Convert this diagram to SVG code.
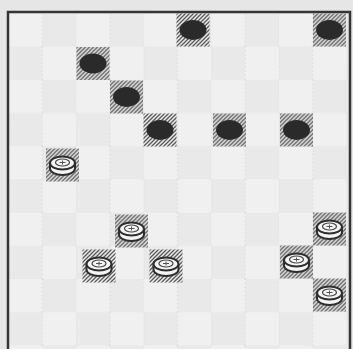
<svg xmlns="http://www.w3.org/2000/svg" width="353" height="349" viewBox="0 0 353 349">
  <defs>
    <pattern id="checker" patternUnits="userSpaceOnUse" x="8.5" y="13.4" width="67.6" height="66.4">
      <rect x="33.8" y="0" width="33.8" height="33.2" fill="#e9e9e9"/>
      <rect x="0" y="33.2" width="33.8" height="33.2" fill="#e9e9e9"/>
      <path d="M33.8,0 v33.2 M67.6,0 v33.2 M0,33.2 v33.2 M33.8,33.2 v33.2" stroke="#c8c8c8" stroke-width="0.8" stroke-dasharray="1 3" fill="none"/>
    </pattern>
    <pattern id="hatch" patternUnits="userSpaceOnUse" width="4" height="4">
      <path d="M-1,1 l2,-2 M0,4 l4,-4 M3,5 l2,-2" stroke="#5a5a5a" stroke-width="1.3"/>
    </pattern>
    <filter id="soft" x="-20%" y="-20%" width="140%" height="140%">
      <feGaussianBlur stdDeviation="0.7"/>
    </filter>
    <g id="blackPiece">
      <rect x="-16.5" y="-16.5" width="33" height="33" fill="url(#hatch)"/>
      <ellipse cx="0" cy="0" rx="13.5" ry="10" fill="#2c2c2c" filter="url(#soft)"/>
    </g>
    <g id="whitePiece">
      <rect x="-16.5" y="-16.5" width="33" height="33" fill="url(#hatch)"/>
      <g filter="url(#soft)">
        <path d="M-12.5,-2 v5.5 a12.5,6.5 0 0 0 25,0 v-5.5" fill="#f4f4f4" stroke="#2e2e2e" stroke-width="2"/>
        <ellipse cx="0" cy="-2" rx="12.5" ry="6.5" fill="#f4f4f4" stroke="#2e2e2e" stroke-width="2"/>
        <ellipse cx="0" cy="-2.5" rx="7" ry="3.5" fill="none" stroke="#444" stroke-width="1.2"/>
        <path d="M-3,-2.5 h6 M0,-4.5 v4" stroke="#555" stroke-width="1"/>
      </g>
    </g>
    <style>
      .border { stroke: #353535; stroke-width: 2.5; fill: none; }
    </style>
  </defs>

  <rect x="0" y="0" width="353" height="349" fill="#e6e6e6"/>
  <g id="board">
    <rect x="8.5" y="13.4" width="338" height="336" fill="#f0f0f0"/>
    <rect x="8.5" y="13.4" width="338" height="336" fill="url(#checker)"/>
    <path class="border" d="M8,349 V12 H350 V349"/>
  </g>

  <g id="connectors"></g>

  <g id="black-pieces">
    <use id="b1" href="#blackPiece" x="193" y="30"/>
    <use id="b2" href="#blackPiece" x="329.5" y="30"/>
    <use id="b3" href="#blackPiece" x="93" y="63.5"/>
    <use id="b4" href="#blackPiece" x="126.5" y="97"/>
    <use id="b5" href="#blackPiece" x="160" y="130"/>
    <use id="b6" href="#blackPiece" x="229.5" y="130"/>
    <use id="b7" href="#blackPiece" x="296.5" y="130"/>
  </g>

  <g id="white-pieces">
    <use id="w1" href="#whitePiece" x="62.5" y="165"/>
    <use id="w2" href="#whitePiece" x="131.5" y="231"/>
    <use id="w3" href="#whitePiece" x="329.5" y="229"/>
    <use id="w4" href="#whitePiece" x="99" y="266"/>
    <use id="w5" href="#whitePiece" x="166" y="266"/>
    <use id="w6" href="#whitePiece" x="296.5" y="262"/>
    <use id="w7" href="#whitePiece" x="329.5" y="295"/>
  </g>
</svg>
